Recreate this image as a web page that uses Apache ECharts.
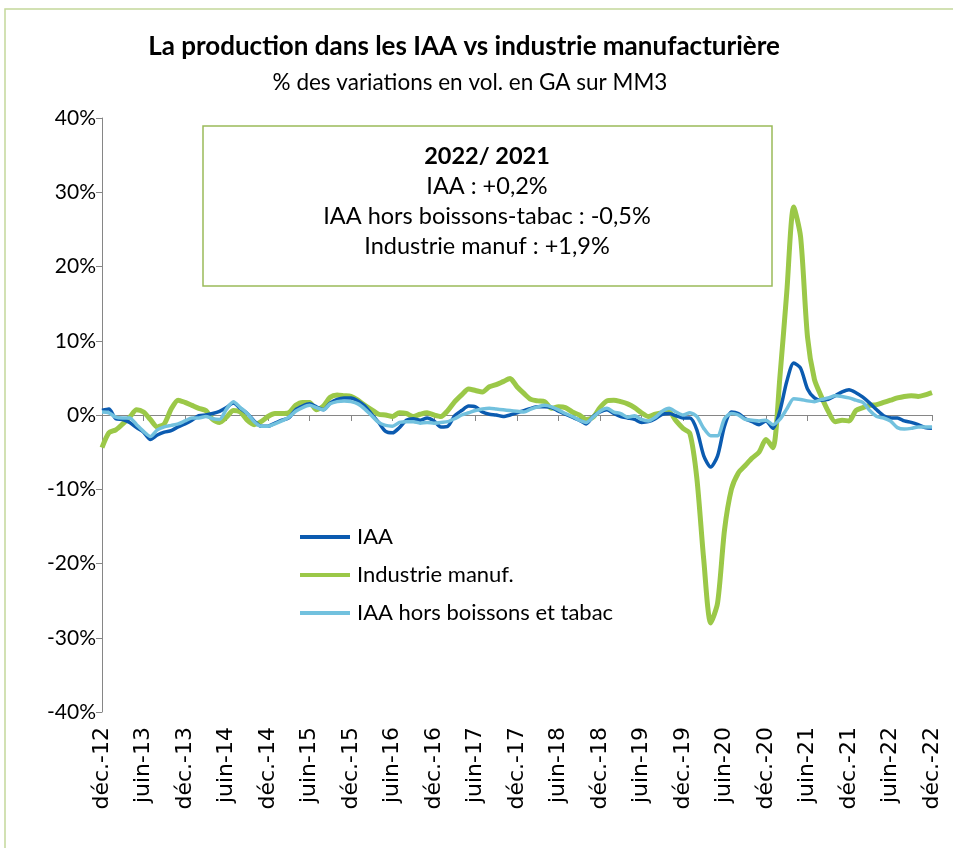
<!DOCTYPE html>
<html><head><meta charset="utf-8">
<script src="https://cdn.jsdelivr.net/npm/echarts@6/dist/echarts.min.js"></script>
<style>html,body{margin:0;padding:0;background:#fff}#c{width:953px;height:848px}</style>
</head><body><div id="c"></div>
<script>
// Monthly categories from déc.-12 to déc.-22
const monthNames = ['janv.','févr.','mars','avr.','mai','juin','juil.','août','sept.','oct.','nov.','déc.'];
const categories = [];
for (let y = 2012; y <= 2022; y++) {
  for (let m = 0; m < 12; m++) {
    if (y === 2012 && m < 11) continue;
    categories.push(monthNames[m] + '-' + String(y).slice(2));
  }
}
const yTicks = [-40, -30, -20, -10, 0, 10, 20, 30, 40];

const iaa = [0.6,0.8,-0.5,-0.6,-1.0,-1.7,-2.3,-3.3,-2.7,-2.3,-2.1,-1.6,-1.2,-0.7,-0.1,0.0,0.2,0.5,1.0,1.6,
0.9,0.2,-0.8,-1.5,-1.5,-1.1,-0.7,-0.4,0.7,1.2,1.5,1.1,0.7,1.6,2.1,2.3,2.3,1.9,1.2,0.1,
-1.0,-2.2,-2.4,-1.7,-0.7,-0.5,-0.7,-0.4,-0.8,-1.6,-1.5,-0.1,0.6,1.2,1.1,0.4,0.1,0.0,-0.2,0.0,
0.3,0.6,0.9,1.1,1.1,1.0,0.5,0.1,-0.3,-0.7,-1.2,-0.2,0.4,0.7,0.2,-0.2,-0.4,-0.6,-1.0,-0.9,
-0.5,0.1,0.2,-0.1,-0.4,-0.4,-2.0,-5.5,-7.0,-5.5,-1.5,0.4,0.2,-0.5,-0.9,-1.3,-0.8,-1.8,0.5,4.5,
7.0,6.3,3.5,2.3,2.0,2.1,2.6,3.1,3.4,3.0,2.4,1.6,0.7,-0.1,-0.4,-0.4,-0.8,-1.0,-1.3,-1.7,-1.8];

const industrie = [-4.4,-2.4,-2.0,-1.2,-0.3,0.7,0.4,-0.6,-1.6,-1.2,0.8,2.0,1.7,1.3,0.9,0.6,-0.6,-1.0,-0.3,0.6,
0.4,-0.7,-1.3,-0.9,-0.2,0.2,0.2,0.3,1.3,1.7,1.7,0.7,1.2,2.4,2.7,2.6,2.5,2.0,1.3,0.7,
0.1,0.0,-0.2,0.3,0.2,-0.2,0.1,0.3,0.0,-0.2,0.6,1.8,2.7,3.5,3.3,3.1,3.8,4.1,4.5,4.9,
3.8,2.9,2.1,1.9,1.8,0.9,1.1,1.0,0.4,0.0,-0.6,-0.3,1.0,1.9,2.0,1.8,1.5,1.0,0.3,-0.2,
0.1,0.3,0.4,-0.8,-1.8,-2.5,-8.5,-19.5,-28.0,-25.3,-15.5,-10.0,-7.8,-6.8,-5.8,-5.0,-3.3,-4.4,5.0,16.5,
28.0,24.0,10.5,4.8,2.5,0.5,-0.9,-0.7,-0.8,0.6,1.0,1.3,1.4,1.7,2.0,2.3,2.5,2.6,2.5,2.7,3.0];

const horsBT = [0.4,0.3,-0.3,-0.4,-0.4,-1.3,-2.2,-2.9,-2.0,-1.6,-1.4,-1.2,-0.8,-0.4,-0.4,-0.2,-0.5,-0.6,0.8,1.8,
1.0,0.2,-0.9,-1.5,-1.5,-1.2,-0.8,-0.3,0.5,1.0,1.3,1.0,0.7,1.5,1.8,1.9,1.8,1.5,0.8,-0.1,
-1.0,-1.4,-1.5,-1.0,-0.9,-0.9,-1.1,-1.0,-1.1,-1.0,-0.9,-0.5,0.0,0.3,0.6,0.8,0.9,0.8,0.7,0.6,
0.5,0.4,0.8,1.1,1.3,1.1,0.7,0.2,-0.2,-0.7,-1.0,-0.3,0.5,0.9,0.4,0.2,-0.3,-0.1,-0.6,-0.8,
-0.3,0.5,0.9,0.4,0.0,0.3,-0.2,-1.8,-2.8,-2.8,-0.5,0.2,0.0,-0.6,-0.7,-0.8,-0.7,-1.3,-0.6,0.8,
2.2,2.1,1.9,1.8,2.1,2.3,2.6,2.5,2.3,2.0,1.7,0.6,-0.2,-0.4,-0.8,-1.7,-1.9,-1.8,-1.6,-1.6,-1.6];

const seriesNames = ['IAA', 'Industrie manuf.', 'IAA hors boissons et tabac'];
const boxLines = ['2022/ 2021', 'IAA : +0,2%', 'IAA hors boissons-tabac : -0,5%', 'Industrie manuf : +1,9%'];
const titleText = 'La production dans les IAA vs industrie manufacturière';
const subtitleText = '% des variations en vol. en GA sur MM3';

const cTxt = '"Lato","Open Sans",sans-serif';
const chart = echarts.init(document.getElementById('c'), null, {renderer: 'canvas'});
const gridL = 102, gridT = 118, gridR = 21, gridB = 136;
const colors = ['#0B5BB0', '#9BC848', '#72C1DE'];

const boxTextEls = boxLines.map((t, i) => ({
  type: 'text', z: 51, silent: true,
  style: {text: t, x: 487, y: 156 + i * 30.3, align: 'center', verticalAlign: 'middle',
    fontFamily: cTxt, fontSize: 23.5, fontWeight: i === 0 ? 'bold' : 'normal', fill: '#000'}
}));

chart.setOption({
  animation: false,
  backgroundColor: '#fff',
  title: [
    {text: titleText, left: 459, top: 29, textAlign: 'center',
     textStyle: {fontFamily: cTxt, fontWeight: 'bold', fontSize: 26, color: '#000'}},
    {text: subtitleText, left: 465, top: 66, textAlign: 'center',
     textStyle: {fontFamily: cTxt, fontWeight: 'normal', fontSize: 22.5, color: '#000'}}
  ],
  legend: {
    orient: 'vertical', left: 300, top: 526, padding: 0, itemWidth: 50, itemHeight: 4, itemGap: 16,
    textStyle: {fontFamily: cTxt, fontSize: 22, lineHeight: 20, color: '#000', padding: [0,0,0,2]},
    data: [
      {name: seriesNames[0], icon: 'rect', itemStyle: {color: colors[0]}},
      {name: seriesNames[1], icon: 'rect', itemStyle: {color: colors[1]}},
      {name: seriesNames[2], icon: 'rect', itemStyle: {color: colors[2]}}
    ]
  },
  grid: {left: gridL, top: gridT, right: gridR, bottom: gridB, containLabel: false},
  xAxis: [
    {type: 'category', data: categories, boundaryGap: false, position: 'bottom',
     axisLine: {onZero: true, lineStyle: {color: '#868686', width: 1}},
     axisTick: {show: true, interval: 5, length: 6, inside: false, lineStyle: {color: '#868686'}},
     axisLabel: {show: false}, splitLine: {show: false}},
    {type: 'category', data: categories, boundaryGap: false, position: 'bottom',
     axisLine: {show: false, onZero: false}, axisTick: {show: false},
     axisLabel: {show: true, interval: 5, rotate: 90, margin: 15,
       fontFamily: '"DejaVu Sans"', fontSize: 22, color: '#000'},
     splitLine: {show: false}}
  ],
  yAxis: {
    type: 'value', min: yTicks[0], max: yTicks[yTicks.length-1], interval: 10,
    axisLine: {show: true, lineStyle: {color: '#868686', width: 1}},
    axisTick: {show: true, length: 6, inside: false, lineStyle: {color: '#868686'}},
    axisLabel: {formatter: '{value}%', fontFamily: cTxt, fontSize: 21, color: '#000', margin: 6},
    splitLine: {show: false}
  },
  series: [
    {name: seriesNames[0], type: 'line', data: iaa, symbol: 'none', smooth: 0.25, z: 3,
     lineStyle: {color: colors[0], width: 3.5}, itemStyle: {color: colors[0]}},
    {name: seriesNames[1], type: 'line', data: industrie, symbol: 'none', smooth: 0.25, z: 2,
     lineStyle: {color: colors[1], width: 5}, itemStyle: {color: colors[1]}},
    {name: seriesNames[2], type: 'line', data: horsBT, symbol: 'none', smooth: 0.25, z: 4,
     lineStyle: {color: colors[2], width: 3.5}, itemStyle: {color: colors[2]}}
  ],
  graphic: [
    {type: 'rect', z: 0, silent: true, shape: {x: 5, y: 9, width: 1200, height: 1200},
     style: {fill: null, stroke: '#C4D89A', lineWidth: 1.5}},
    {type: 'rect', z: 50, silent: true, shape: {x: 203, y: 126, width: 569, height: 160},
     style: {fill: '#fff', stroke: '#9BBB59', lineWidth: 1.5}}
  ].concat(boxTextEls)
});
</script>
</body></html>
